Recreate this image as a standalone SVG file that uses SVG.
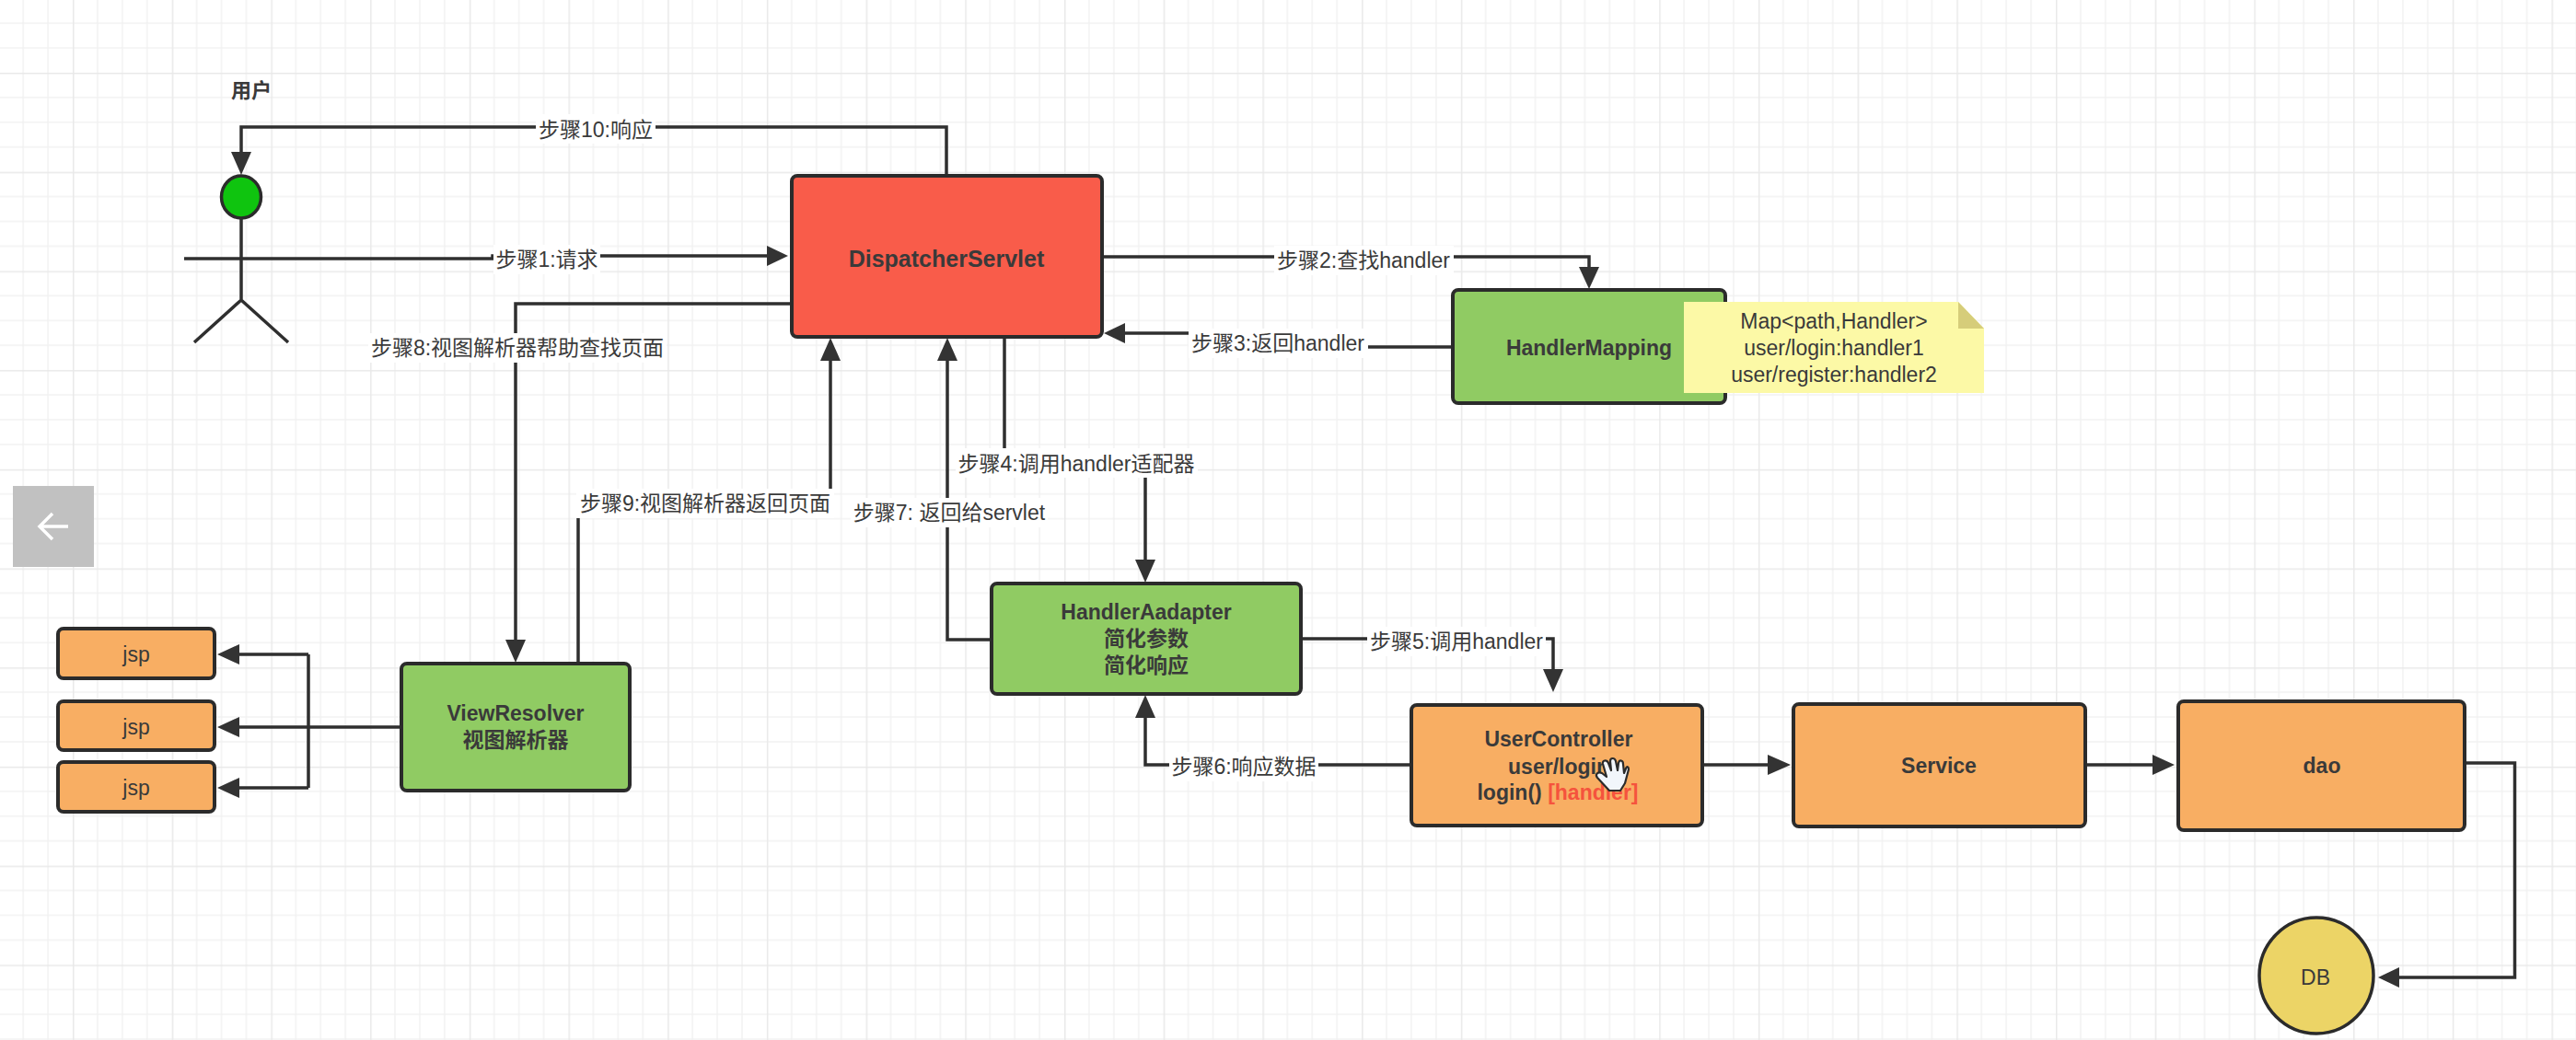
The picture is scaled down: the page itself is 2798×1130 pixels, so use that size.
<svg xmlns="http://www.w3.org/2000/svg" width="2798" height="1130" viewBox="0 0 2798 1130">
<style>
text{font-family:"Liberation Sans","Noto Sans CJK SC",sans-serif;font-size:23px;fill:#3a3a3a;text-anchor:middle;dominant-baseline:central}
.b{font-weight:bold}
.box{stroke:#2b2b2b;stroke-width:4}
.red{fill:#f95c4a}.green{fill:#90cb63}.orange{fill:#f8ae63}
.thin{fill:none;stroke:#2f2f2f;stroke-width:3.5}
.bg{fill:#fff}
.head{fill:#333}
</style>
<defs>
<pattern id="grid" patternUnits="userSpaceOnUse" x="79" y="79" width="107.7" height="107.7">
<path d="M26.9 0V107.7M53.85 0V107.7M80.8 0V107.7M0 26.9H107.7M0 53.85H107.7M0 80.8H107.7" fill="none" stroke="#f2f2f2" stroke-width="1.5"/>
<path d="M0 0V107.7M0 0H107.7" fill="none" stroke="#e9e9e9" stroke-width="3"/>
</pattern>
</defs>
<rect width="2798" height="1130" fill="#fff"/>
<rect width="2798" height="1130" fill="url(#grid)"/>

<g id="connectors">
<path class="thin" d="M1028 191V138H262V170"/><path class="head" d="M262 190L251 165H273Z"/>
<path class="thin" d="M200 281H535V278H840"/><path class="head" d="M856 278L833 267V289Z"/>
<path class="thin" d="M860 330H560V700"/><path class="head" d="M560 720L549 695H571Z"/>
<path class="thin" d="M628 721V547H902V385"/><path class="head" d="M902 367L891 392H913Z"/>
<path class="thin" d="M1076 695H1029V385"/><path class="head" d="M1029 367L1018 392H1040Z"/>
<path class="thin" d="M1091 366V503H1244V612"/><path class="head" d="M1244 633L1233 608H1255Z"/>
<path class="thin" d="M1197 279H1726V295"/><path class="head" d="M1726 314L1715 290H1737Z"/>
<path class="thin" d="M1578 377H1400V362H1215"/><path class="head" d="M1199 362L1222 351V373Z"/>
<path class="thin" d="M1413 694H1687V732"/><path class="head" d="M1687 752L1676 727H1698Z"/>
<path class="thin" d="M1533 831H1244V775"/><path class="head" d="M1244 755L1233 780H1255Z"/>
<path class="thin" d="M1849 831H1925"/><path class="head" d="M1945 831L1920 820V842Z"/>
<path class="thin" d="M2267 831H2342"/><path class="head" d="M2362 831L2338 820V842Z"/>
<path class="thin" d="M2679 829H2731.5V1062H2600"/><path class="head" d="M2583 1062L2606 1051V1073Z"/>
<path class="thin" d="M436 790H255M335 711V856M335 711H255M335 856H255"/>
<path class="head" d="M236 711L260 700V722ZM236 790L260 779V801ZM236 856L260 845V867Z"/>
</g>

<g id="connector-labels">
<rect class="bg" x="582" y="124" width="130" height="32"/><text x="647" y="141">步骤10:响应</text>
<rect class="bg" x="536" y="266" width="116" height="32"/><text x="594" y="282">步骤1:请求</text>
<rect class="bg" x="400" y="362" width="324" height="32"/><text x="562" y="378">步骤8:视图解析器帮助查找页面</text>
<rect class="bg" x="626" y="531" width="280" height="32"/><text x="766" y="547">步骤9:视图解析器返回页面</text>
<rect class="bg" x="924" y="541" width="214" height="32"/><text x="1031" y="557">步骤7: 返回给servlet</text>
<rect class="bg" x="1038" y="487" width="263" height="32"/><text x="1169" y="504">步骤4:调用handler适配器</text>
<rect class="bg" x="1384" y="267" width="195" height="32"/><text x="1481" y="283">步骤2:查找handler</text>
<rect class="bg" x="1291" y="357" width="195" height="32"/><text x="1388" y="373">步骤3:返回handler</text>
<rect class="bg" x="1485" y="681" width="194" height="32"/><text x="1582" y="697">步骤5:调用handler</text>
<rect class="bg" x="1270" y="817" width="162" height="32"/><text x="1351" y="833">步骤6:响应数据</text>
</g>

<g id="user">
<text class="b" x="273" y="98" style="font-size:22px">用户</text>
<ellipse cx="262" cy="214" rx="21.5" ry="23" fill="#0fc40f" stroke="#2b2b2b" stroke-width="3.5"/>
<path class="thin" d="M262 237V326M262 326L211 372M262 326L313 372"/>
</g>

<g id="dispatcher-servlet">
<rect class="box red" x="860" y="191" width="337" height="175" rx="6"/>
<text class="b" x="1028" y="281" style="font-size:25px">DispatcherServlet</text>
</g>

<g id="handler-mapping">
<rect class="box green" x="1578" y="315" width="296" height="123" rx="6"/>
<text class="b" x="1726" y="378">HandlerMapping</text>
</g>

<g id="mapping-note">
<path d="M1829 328H2127L2155 357V427H1829Z" fill="#fcf9a6"/>
<path d="M2127 328L2155 357H2127Z" fill="#d6cd7a"/>
<text x="1992" y="349">Map&lt;path,Handler&gt;</text>
<text x="1992" y="378">user/login:handler1</text>
<text x="1992" y="407">user/register:handler2</text>
</g>

<g id="handler-adapter">
<rect class="box green" x="1077" y="634" width="336" height="120" rx="6"/>
<text class="b" x="1245" y="665">HandlerAadapter</text>
<text class="b" x="1245" y="694">简化参数</text>
<text class="b" x="1245" y="723">简化响应</text>
</g>

<g id="user-controller">
<rect class="box orange" x="1533" y="766" width="316" height="131" rx="6"/>
<text class="b" x="1693" y="803">UserController</text>
<text class="b" x="1693" y="833">user/login</text>
<text class="b" x="1692" y="861">login() <tspan fill="#f5533d">[handler]</tspan></text>
</g>

<g id="pointer">
<path d="M1748 859L1735 845C1732 841 1736 838 1740 840L1745 844L1741 830C1740 826 1745 825 1747 829L1750 837L1749 827C1749 823 1754 823 1755 827L1757 837L1758 829C1759 825 1763 826 1763 830L1764 840L1766 835C1767 832 1769 833 1769 836L1765 851L1760 859Z" fill="#f2f6fb" stroke="#2b2b2b" stroke-width="2.2" stroke-linejoin="round"/>
</g>

<g id="service">
<rect class="box orange" x="1948" y="765" width="317" height="133" rx="6"/>
<text class="b" x="2106" y="832">Service</text>
</g>

<g id="dao">
<rect class="box orange" x="2366" y="762" width="311" height="140" rx="6"/>
<text class="b" x="2522" y="832">dao</text>
</g>

<g id="db">
<ellipse cx="2516" cy="1060" rx="62" ry="63" fill="#ecd466" stroke="#2b2b2b" stroke-width="3.5"/>
<text x="2515" y="1062">DB</text>
</g>

<g id="view-resolver">
<rect class="box green" x="436" y="721" width="248" height="138" rx="6"/>
<text class="b" x="560" y="775">ViewResolver</text>
<text class="b" x="560" y="804">视图解析器</text>
</g>

<g id="jsp-1"><rect class="box orange" x="63" y="683" width="170" height="54" rx="6"/><text x="148" y="711">jsp</text></g>
<g id="jsp-2"><rect class="box orange" x="63" y="762" width="170" height="53" rx="6"/><text x="148" y="790">jsp</text></g>
<g id="jsp-3"><rect class="box orange" x="63" y="828" width="170" height="54" rx="6"/><text x="148" y="856">jsp</text></g>

<g id="back-button">
<rect x="14" y="528" width="88" height="88" fill="#c1c1c1"/>
<path d="M74 572H44M57 558L43 572L57 586" fill="none" stroke="#fff" stroke-width="3.5"/>
</g>
</svg>
